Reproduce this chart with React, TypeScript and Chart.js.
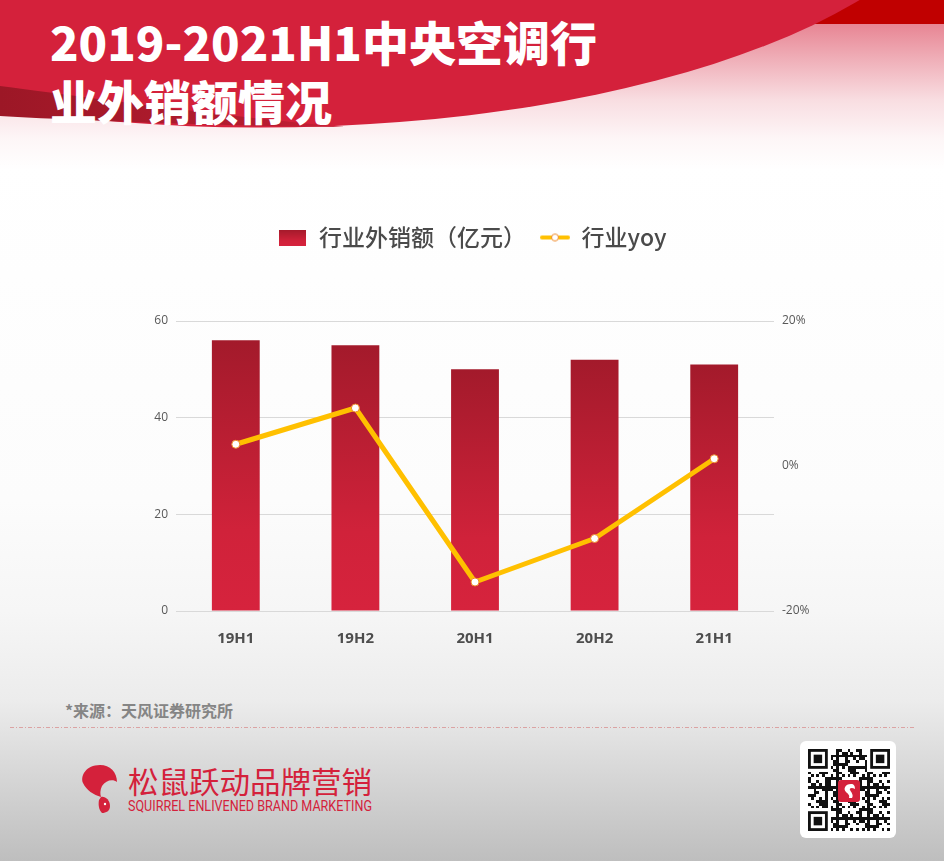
import React, { useEffect, useRef } from 'react';
import { Chart, registerables } from 'chart.js';

Chart.register(...registerables);

// ---- data ----
const categories = ['19H1', '19H2', '20H1', '20H2', '21H1'];
const exportSales = [56, 55, 50, 52, 51]; // 行业外销额（亿元）
const yoyPercent = [3, 8, -16, -10, 1]; // 行业yoy (%)
const leftTicks = [0, 20, 40, 60];
const rightTicks = [-20, 0, 20];
const seriesNames = ['行业外销额（亿元）', '行业yoy'];

const titleLines = ['2019-2021H1中央空调行', '业外销额情况'];
const sourceNote = '*来源：天风证券研究所';
const brandName = '松鼠跃动品牌营销';
const brandSlogan = 'SQUIRREL ENLIVENED BRAND MARKETING';

// ---- styling ----
const BRAND_RED = '#d4213b';
const LINE_COLOR = '#ffc000';
const TEXT_GRAY = '#595959';
const CJK = "'Noto Sans CJK SC', 'Noto Sans', sans-serif";
const LATIN = "'Open Sans', 'Noto Sans CJK SC', sans-serif";

function paintBarGradient(ctx: CanvasRenderingContext2D, top: number, bottom: number) {
  const g = ctx.createLinearGradient(0, top, 0, bottom);
  g.addColorStop(0, '#a31a2b');
  g.addColorStop(0.7, '#d0223a');
  g.addColorStop(1, '#d6233d');
  return g;
}

function makeBarSwatch(): HTMLCanvasElement {
  const c = document.createElement('canvas');
  c.width = 27;
  c.height = 16;
  const ctx = c.getContext('2d')!;
  ctx.fillStyle = paintBarGradient(ctx, 0, 16);
  ctx.fillRect(0, 0, 27, 16);
  return c;
}

function makeLineSwatch(): HTMLCanvasElement {
  const c = document.createElement('canvas');
  c.width = 30;
  c.height = 12;
  const ctx = c.getContext('2d')!;
  ctx.strokeStyle = LINE_COLOR;
  ctx.lineWidth = 4;
  ctx.lineCap = 'round';
  ctx.beginPath();
  ctx.moveTo(2, 6);
  ctx.lineTo(28, 6);
  ctx.stroke();
  ctx.beginPath();
  ctx.arc(15, 6, 3.5, 0, Math.PI * 2);
  ctx.fillStyle = '#ffffff';
  ctx.fill();
  ctx.lineWidth = 1;
  ctx.strokeStyle = '#ef8a2a';
  ctx.stroke();
  return c;
}

// extra room between the legend row and the plot
const LEGEND_GAP = 62;
const legendGapPlugin = {
  id: 'legendGap',
  beforeInit(chart: any) {
    const legend = chart.legend;
    if (!legend) return;
    const baseFit = legend.fit;
    legend.fit = function () {
      baseFit.call(this);
      this.height += LEGEND_GAP;
    };
  },
};

// decorative QR-style block for the footer
function qrModules(): Array<[number, number]> {
  const cells: Array<[number, number]> = [];
  for (let r = 0; r < 29; r++) {
    for (let c = 0; c < 29; c++) {
      const inFinder = (r < 8 && c < 8) || (r < 8 && c > 20) || (r > 20 && c < 8);
      const inLogo = r >= 11 && r <= 17 && c >= 11 && c <= 17;
      if (inFinder || inLogo) continue;
      const h = (r * 73 + c * 151 + r * c * 29) % 11;
      const timing = (r === 6 && c % 2 === 0) || (c === 6 && r % 2 === 0);
      if (h < 5 || timing) cells.push([r, c]);
    }
  }
  return cells;
}

function Finder({ x, y, s }: { x: number; y: number; s: number }) {
  return (
    <g>
      <rect x={x} y={y} width={7 * s} height={7 * s} fill="#111" />
      <rect x={x + s} y={y + s} width={5 * s} height={5 * s} fill="#fff" />
      <rect x={x + 2 * s} y={y + 2 * s} width={3 * s} height={3 * s} fill="#111" />
    </g>
  );
}

export default function App() {
  const canvasRef = useRef<HTMLCanvasElement>(null);

  useEffect(() => {
    const canvas = canvasRef.current;
    if (!canvas) return;
    const barSwatch = makeBarSwatch();
    const lineSwatch = makeLineSwatch();

    const chart = new Chart(canvas, {
      type: 'bar',
      data: {
        labels: categories,
        datasets: [
          {
            type: 'bar',
            label: seriesNames[0],
            data: exportSales,
            yAxisID: 'y',
            backgroundColor: (ctx: any) => {
              const ch = ctx.chart;
              if (!ch.chartArea || ctx.type !== 'data') return BRAND_RED;
              const ys = ch.scales.y;
              return paintBarGradient(ch.ctx, ys.getPixelForValue(ctx.raw), ys.getPixelForValue(0));
            },
            borderWidth: 0,
            barPercentage: 0.4,
            categoryPercentage: 1,
            order: 2,
          },
          {
            type: 'line',
            label: seriesNames[1],
            data: yoyPercent,
            yAxisID: 'y1',
            borderColor: LINE_COLOR,
            borderWidth: 5,
            borderJoinStyle: 'round',
            borderCapStyle: 'round',
            tension: 0,
            pointRadius: 4,
            pointHoverRadius: 4,
            pointBackgroundColor: '#ffffff',
            pointBorderColor: '#ef8a2a',
            pointBorderWidth: 1,
            order: 1,
          },
        ] as any,
      },
      options: {
        animation: false,
        responsive: true,
        maintainAspectRatio: false,
        layout: { padding: { top: 12, left: 0, right: 0, bottom: 0 } },
        plugins: {
          tooltip: { enabled: false },
          legend: {
            position: 'top',
            align: 'center',
            labels: {
              usePointStyle: true,
              pointStyleWidth: 30,
              boxHeight: 16,
              padding: 14,
              color: '#4a4a4a',
              font: { family: CJK, size: 23, weight: 500 },
              generateLabels: () => [
                {
                  text: seriesNames[0],
                  pointStyle: barSwatch as any,
                  fillStyle: BRAND_RED,
                  strokeStyle: 'rgba(0,0,0,0)',
                  lineWidth: 0,
                  hidden: false,
                  datasetIndex: 0,
                  fontColor: '#4a4a4a',
                },
                {
                  text: seriesNames[1],
                  pointStyle: lineSwatch as any,
                  fillStyle: LINE_COLOR,
                  strokeStyle: 'rgba(0,0,0,0)',
                  lineWidth: 0,
                  hidden: false,
                  datasetIndex: 1,
                  fontColor: '#4a4a4a',
                },
              ],
            },
          },
        },
        scales: {
          x: {
            grid: { display: false },
            border: { display: false },
            ticks: {
              color: '#4d4d4d',
              font: { family: LATIN, size: 15, weight: 'bold' },
              padding: 11,
            },
            afterFit: (s: any) => {
              s.height = 59;
            },
          },
          y: {
            position: 'left',
            min: leftTicks[0],
            max: leftTicks[leftTicks.length - 1],
            grid: { color: '#d9d9d9', drawTicks: false },
            border: { display: false },
            ticks: {
              stepSize: leftTicks[1] - leftTicks[0],
              color: TEXT_GRAY,
              font: { family: LATIN, size: 12 },
              padding: 8,
            },
            afterFit: (s: any) => {
              s.width = 176;
            },
          },
          y1: {
            position: 'right',
            min: rightTicks[0],
            max: rightTicks[rightTicks.length - 1],
            grid: { display: false, drawTicks: false },
            border: { display: false },
            ticks: {
              stepSize: rightTicks[1] - rightTicks[0],
              color: TEXT_GRAY,
              font: { family: LATIN, size: 12 },
              padding: 8,
              callback: (v: any) => `${v}%`,
            },
            afterFit: (s: any) => {
              s.width = 170;
            },
          },
        },
      } as any,
      plugins: [legendGapPlugin],
    });

    return () => chart.destroy();
  }, []);

  const qrSize = 82 / 29;
  const qrX = 808;
  const qrY = 749;

  return (
    <div
      style={{
        position: 'absolute',
        left: 0,
        top: 0,
        width: 944,
        height: 861,
        overflow: 'hidden',
        background:
          'linear-gradient(to bottom, #ffffff 0px, #ffffff 160px, #fcfcfc 500px, #f6f6f6 611px, #ececec 700px, #bebebe 861px)',
      }}
    >
      <svg width={944} height={861} style={{ position: 'absolute', left: 0, top: 0 }}>
        <defs>
          <linearGradient id="headerFade" x1="0" y1="0" x2="0" y2="1">
            <stop offset="0" stopColor="rgb(212,33,59)" stopOpacity={0.62} />
            <stop offset="0.14" stopColor="rgb(212,33,59)" stopOpacity={0.55} />
            <stop offset="0.35" stopColor="rgb(212,33,59)" stopOpacity={0.36} />
            <stop offset="0.59" stopColor="rgb(212,33,59)" stopOpacity={0.15} />
            <stop offset="0.82" stopColor="rgb(212,33,59)" stopOpacity={0.04} />
            <stop offset="1" stopColor="rgb(212,33,59)" stopOpacity={0} />
          </linearGradient>
          <linearGradient id="darkBand" x1="0" y1="0" x2="1" y2="0">
            <stop offset="0" stopColor="#9c1726" />
            <stop offset="0.7" stopColor="#b31c2f" />
            <stop offset="1" stopColor="#c81f36" />
          </linearGradient>
        </defs>

        {/* header */}
        <rect x={0} y={0} width={944} height={170} fill="url(#headerFade)" />
        <rect x={780} y={0} width={164} height={24} fill="#c00000" />
        <ellipse cx={260} cy={-152.5} rx={715} ry={280} fill={BRAND_RED} />
        <path d="M0,86 C80,96 200,114 345,127 C220,126 90,121 0,116 Z" fill="url(#darkBand)" />
        {titleLines.map((line, i) => (
          <text
            key={line}
            x={50}
            y={61 + i * 59}
            fill="#ffffff"
            fontFamily={CJK}
            fontWeight={900}
            fontSize={47}
          >
            {line}
          </text>
        ))}

        {/* footer */}
        <text x={65} y={717} fill="#858585" fontFamily={CJK} fontWeight={700} fontSize={16}>
          {sourceNote}
        </text>
        <line x1={10} y1={727.5} x2={915} y2={727.5} stroke="#dba3a3" strokeWidth={1} strokeDasharray="4 2 1 2" />

        {/* brand mark */}
        <g fill={BRAND_RED}>
          <path d="M100,765 C110,765 117,772 117,782 C113,779 106,780 102,786 C100,790 100,794 101,797 C94,795 86,790 83,783 C80,776 86,765 100,765 Z" />
          <path d="M101,797 C105,796 110,800 110,806 C110,811 106,813 102,813 C99,810 98,805 99,800 Z" />
        </g>
        <circle cx={105} cy={804} r={1.2} fill="#ffffff" />
        <text
          x={128}
          y={793}
          fill={BRAND_RED}
          fontFamily={CJK}
          fontSize={30}
          textLength={244}
          lengthAdjust="spacingAndGlyphs"
        >
          {brandName}
        </text>
        <text
          x={128}
          y={811}
          fill={BRAND_RED}
          fontFamily="Roboto, 'Noto Sans', sans-serif"
          fontSize={14}
          textLength={244}
          lengthAdjust="spacingAndGlyphs"
        >
          {brandSlogan}
        </text>

        {/* QR block */}
        <rect x={800} y={741} width={96} height={97} rx={6} fill="#ffffff" />
        <g shapeRendering="crispEdges" fill="#111">
          {qrModules().map(([r, c]) => (
            <rect key={`${r}-${c}`} x={qrX + c * qrSize} y={qrY + r * qrSize} width={qrSize} height={qrSize} />
          ))}
        </g>
        <Finder x={qrX} y={qrY} s={qrSize} />
        <Finder x={qrX + 22 * qrSize} y={qrY} s={qrSize} />
        <Finder x={qrX} y={qrY + 22 * qrSize} s={qrSize} />
        <rect x={838} y={780} width={22} height={22} rx={3} fill={BRAND_RED} />
        <path
          d="M851,784 C845,784 843,789 846,792 C848,794 850,795 849,798 L852,798 C854,795 851,792 850,790 C849,788 852,787 855,789 C855,786 854,784 851,784 Z"
          fill="#ffffff"
        />
      </svg>

      <div style={{ position: 'absolute', left: 0, top: 200, width: 944, height: 470 }}>
        <canvas ref={canvasRef} />
      </div>
    </div>
  );
}
